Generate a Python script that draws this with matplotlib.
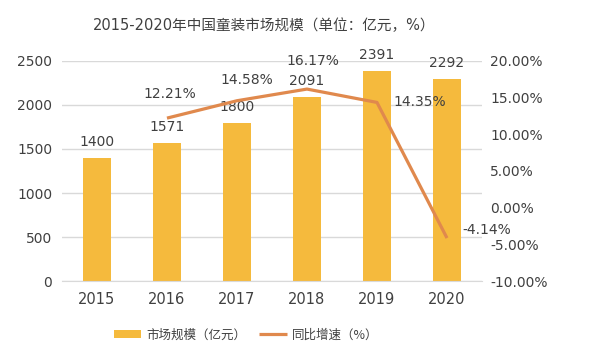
import numpy as np
import matplotlib
matplotlib.use('Agg')
import matplotlib.pyplot as plt
from matplotlib.ticker import FuncFormatter

plt.rcParams['font.family'] = ['DejaVu Sans', 'Noto Sans CJK SC']

# 数据
years = ['2015', '2016', '2017', '2018', '2019', '2020']
market_size = [1400, 1571, 1800, 2091, 2391, 2292]      # 亿元
growth_years = ['2016', '2017', '2018', '2019', '2020']
growth_rate = [12.21, 14.58, 16.17, 14.35, -4.14]       # %

bar_color = '#F5BA3D'
line_color = '#E0894D'
text_color = '#404040'
cjk = ['Noto Sans CJK SC', 'DejaVu Sans']

fig = plt.figure(figsize=(6, 3.6), dpi=100)
ax = fig.add_axes([0.1033, 0.2194, 0.70, 0.6112])
ax2 = ax.twinx()

x = np.arange(len(years))
bars = ax.bar(x, market_size, width=0.4, color=bar_color, zorder=2, label='市场规模（亿元）')
gx = np.array([years.index(y) for y in growth_years])
line, = ax2.plot(gx, growth_rate, color=line_color, lw=2.3, zorder=3,
                 solid_capstyle='butt', label='同比增速（%）')

# 坐标轴
ax.set_xlim(-0.5, len(years) - 0.5)
ax.set_ylim(0, 2500)
ax.set_yticks(range(0, 2501, 500))
ax.set_xticks(x)
ax.set_xticklabels(years)
ax2.set_ylim(-10, 20)
ax2.set_yticks(range(-10, 21, 5))
ax2.yaxis.set_major_formatter(FuncFormatter(lambda v, p: f'{v:.2f}%'))

ax.grid(axis='y', color='#D9D9D9', lw=1, zorder=0)
for a in (ax, ax2):
    for s in a.spines.values():
        s.set_visible(False)
ax.spines['bottom'].set_visible(True)
ax.spines['bottom'].set_color('#D9D9D9')
ax.tick_params(axis='y', length=0, pad=7, labelsize=10, labelcolor=text_color)
ax.tick_params(axis='x', length=0, pad=8, labelsize=10.5, labelcolor=text_color)
ax2.tick_params(axis='y', length=0, pad=6, labelsize=10, labelcolor=text_color)

# 数值标签
for xi, v in zip(x, market_size):
    ax.annotate(str(v), (xi, v), xytext=(0, 16), textcoords='offset pixels',
                ha='center', va='center', fontsize=10, color=text_color)

growth_offsets = [(3, 24, 'center'), (10, 21, 'center'), (6, 28, 'center'),
                  (16, 0, 'left'), (15, 8, 'left')]
for xi, v, (dx, dy, ha) in zip(gx, growth_rate, growth_offsets):
    ax2.annotate(f'{v:.2f}%', (xi, v), xytext=(dx, dy), textcoords='offset pixels',
                 ha=ha, va='center', fontsize=10, color=text_color, zorder=5)

fig.text(0.441, 0.928, '2015-2020年中国童装市场规模（单位：亿元，%）', ha='center', va='center',
         fontsize=10.5, fontweight='medium', color=text_color)

leg = fig.legend([bars, line], ['市场规模（亿元）', '同比增速（%）'], loc='center',
                 bbox_to_anchor=(0.41, 0.07), ncol=2, frameon=False,
                 prop={'family': cjk, 'size': 9}, handlelength=2.2,
                 handleheight=0.6, handletextpad=0.4, columnspacing=1.0)
for t in leg.get_texts():
    t.set_color(text_color)

fig.savefig('out.png', dpi=100)
